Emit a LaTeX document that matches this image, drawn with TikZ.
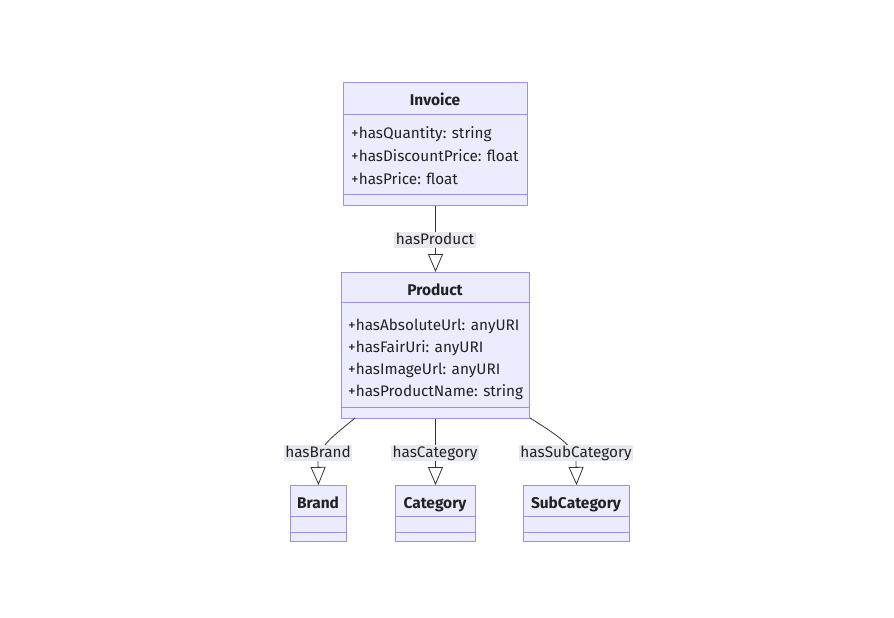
\documentclass[tikz,border=0pt]{standalone}
\usepackage{fontspec}
\setmainfont{Fira Sans}
\usetikzlibrary{arrows.meta,calc}
\definecolor{clsfill}{HTML}{ECECFF}
\definecolor{clsline}{HTML}{9F8FE0}
\definecolor{edgecol}{HTML}{333333}
\definecolor{lblbg}{HTML}{E8E8F0}
\definecolor{txt}{HTML}{222222}
\tikzset{
  cls/.style={draw=clsline, fill=clsfill, line width=1pt, inner sep=0pt, anchor=north west},
  divider/.style={draw=clsline, line width=1pt},
  ctitle/.style={font=\bfseries\fontsize{15.5}{17}\selectfont, text=txt, inner sep=0pt, text height=11pt, text depth=2pt, yshift=-1.5pt},
  attr/.style={font=\fontsize{15.3}{17}\selectfont, text=txt, inner sep=0pt, anchor=west, text height=11pt, text depth=2pt, yshift=-1.5pt},
  elabel/.style={font=\fontsize{15.3}{17}\selectfont, text=txt, fill=lblbg, inner xsep=1.5pt, inner ysep=1.5pt, text height=11pt, text depth=2pt, yshift=-1pt},
  rel/.style={draw=edgecol, line width=0.8pt, -{Triangle[open, length=18pt, width=15pt, fill=white]}},
}
\begin{document}
\begin{tikzpicture}[x=1pt,y=-1pt]
\useasboundingbox (0,0) rectangle (894,618);
\fill[white] (0,0) rectangle (894,618);

% Invoice
\node[cls, minimum width=184pt, minimum height=123pt] (inv) at (343,82) {};
\draw[divider] (343,114) -- (527,114);
\draw[divider] (343,194) -- (527,194);
\node[ctitle] (invt) at (435,99) {Invoice};
\node[attr] (inva1) at (351,132) {+hasQuantity: string};
\node[attr] (inva2) at (351,155) {+hasDiscountPrice: float};
\node[attr] (inva3) at (351,178) {+hasPrice: float};

% Product
\node[cls, minimum width=188pt, minimum height=146pt] (prod) at (341,272) {};
\draw[divider] (341,302) -- (529,302);
\draw[divider] (341,407) -- (529,407);
\node[ctitle] (prodt) at (435,289) {Product};
\node[attr] (proda1) at (348,324) {+hasAbsoluteUrl: anyURI};
\node[attr] (proda2) at (348,346) {+hasFairUri: anyURI};
\node[attr] (proda3) at (348,368) {+hasImageUrl: anyURI};
\node[attr] (proda4) at (348,390) {+hasProductName: string};

% Brand
\node[cls, minimum width=56pt, minimum height=56pt] (brand) at (290,485) {};
\draw[divider] (290,516) -- (346,516);
\draw[divider] (290,532) -- (346,532);
\node[ctitle] (brandt) at (318,502) {Brand};

% Category
\node[cls, minimum width=80pt, minimum height=56pt] (cat) at (395,485) {};
\draw[divider] (395,516) -- (475,516);
\draw[divider] (395,532) -- (475,532);
\node[ctitle] (catt) at (435,502) {Category};

% SubCategory
\node[cls, minimum width=106pt, minimum height=56pt] (sub) at (523,485) {};
\draw[divider] (523,516) -- (629,516);
\draw[divider] (523,532) -- (629,532);
\node[ctitle] (subt) at (576,502) {SubCategory};

% connectors
\coordinate (pb) at (355,418);
\coordinate (ps) at (530,418);
\draw[rel] (inv.south) -- (prod.north);
\draw[rel] (pb) .. controls (336,434) and (318,446) .. (318,462) -- (brand.north);
\draw[rel] (prod.south) -- (cat.north);
\draw[rel] (ps) .. controls (552,432) and (576,446) .. (576,462) -- (sub.north);

% labels
\node[elabel] (l1) at (435,239) {hasProduct};
\node[elabel] (l2) at (318,452) {hasBrand};
\node[elabel] (l3) at (435,452) {hasCategory};
\node[elabel] (l4) at (576,452) {hasSubCategory};
\end{tikzpicture}
\end{document}
